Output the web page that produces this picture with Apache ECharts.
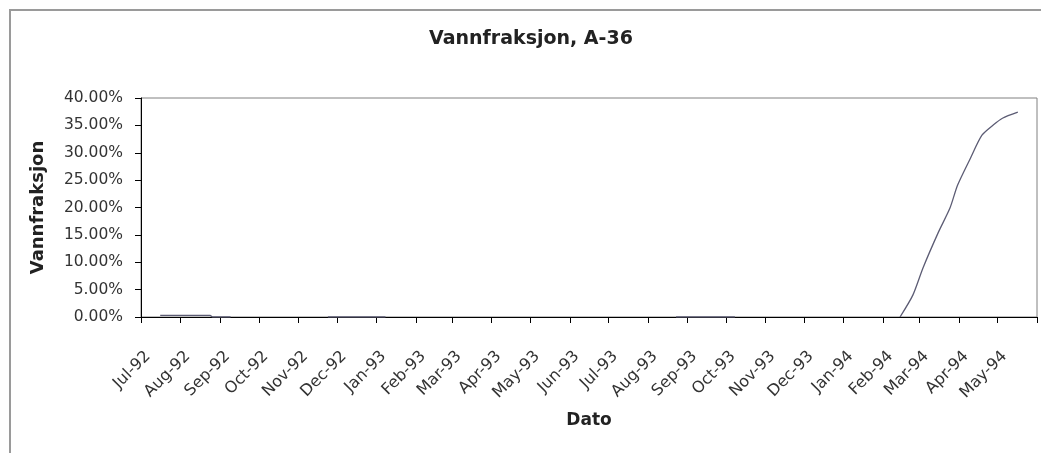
<!DOCTYPE html>
<html>
<head>
<meta charset="utf-8">
<script src="https://cdn.jsdelivr.net/npm/echarts@6/dist/echarts.min.js"></script>
<style>
  html, body { margin: 0; padding: 0; background: #fff; }
  #chart { width: 1041px; height: 453px; }
</style>
</head>
<body>
<div id="chart"></div>
<script>
// ---- data ----
const titleText = 'Vannfraksjon, A-36';
const yName = 'Vannfraksjon';
const xName = 'Dato';
const monthNames = ['Jan','Feb','Mar','Apr','May','Jun','Jul','Aug','Sep','Oct','Nov','Dec'];
const axisStart = '1992-07-01';
const axisEnd = '1994-06-01';
const yTicks = [0, 5, 10, 15, 20, 25, 30, 35, 40]; // percent
// dates and water-cut values (%); null marks a gap in the record
const dates = [
  '1992-07-16', '1992-08-24', '1992-08-26', '1992-09-09', '1992-10-15',
  '1992-11-24', '1993-01-08', '1993-05-01',
  '1993-08-23', '1993-10-08', '1993-12-01',
  '1994-02-14', '1994-02-24', '1994-03-04', '1994-03-16', '1994-03-25',
  '1994-03-31', '1994-04-10', '1994-04-19', '1994-04-28', '1994-05-05', '1994-05-17'
];
const values = [
  0.3, 0.3, 0, 0, null,
  0, 0, null,
  0, 0, null,
  0, 4.0, 9.0, 15.5, 19.9,
  24.1, 29.0, 33.2, 35.1, 36.3, 37.4
];

function toTs(s) {
  const p = s.split('-').map(Number);
  return new Date(p[0], p[1] - 1, p[2]).getTime();
}
const seriesData = dates.map((d, i) => [toTs(d), values[i] === null ? '-' : values[i]]);
const xMax = toTs(axisEnd);

const FONT = 'DejaVu Sans';
const chart = echarts.init(document.getElementById('chart'), null, { renderer: 'canvas' });
chart.setOption({
  backgroundColor: '#ffffff',
  animation: false,
  graphic: [{
    type: 'rect', z: -10, silent: true,
    shape: { x: 10, y: 10, width: 1100, height: 500 },
    style: { fill: 'none', stroke: '#9a9a9a', lineWidth: 2 }
  }],
  title: {
    text: titleText,
    left: 424, top: 25,
    textStyle: { fontFamily: FONT, fontSize: 19, fontWeight: 'bold', color: '#222' }
  },
  grid: {
    left: 141, right: 4, top: 98, bottom: 136,
    show: true, borderColor: '#808080', borderWidth: 1, backgroundColor: '#fff'
  },
  xAxis: {
    type: 'time',
    min: toTs(axisStart), max: xMax,
    splitNumber: 23,
    minInterval: 28 * 86400000,
    maxInterval: 31 * 86400000,
    name: xName, nameLocation: 'middle', nameGap: 95,
    nameTextStyle: { fontFamily: FONT, fontSize: 17, fontWeight: 'bold', color: '#222' },
    axisLine: { lineStyle: { color: '#000', width: 1 } },
    axisTick: { show: true, length: 6, lineStyle: { color: '#000' } },
    splitLine: { show: false },
    axisLabel: {
      rotate: 45, margin: 44, padding: [0, -10, 0, 0],
      fontFamily: FONT, fontSize: 16, color: '#333', interval: 0,
      formatter: function (val) {
        if (val >= xMax) return '';
        const d = new Date(val);
        return monthNames[d.getMonth()] + '-' + String(d.getFullYear()).slice(2);
      }
    }
  },
  yAxis: {
    type: 'value', min: yTicks[0], max: yTicks[yTicks.length - 1], interval: yTicks[1] - yTicks[0],
    name: yName, nameLocation: 'middle', nameGap: 94, nameRotate: 90,
    nameTextStyle: { fontFamily: FONT, fontSize: 18, fontWeight: 'bold', color: '#222' },
    axisLine: { show: true, lineStyle: { color: '#000', width: 1 } },
    axisTick: { show: true, inside: false, length: 6, lineStyle: { color: '#000' } },
    splitLine: { show: false },
    axisLabel: {
      margin: 18, fontFamily: FONT, fontSize: 15.5, color: '#333',
      formatter: v => v.toFixed(2) + '%'
    }
  },
  series: [{
    type: 'line',
    data: seriesData,
    connectNulls: false,
    showSymbol: false,
    smooth: 0.25,
    lineStyle: { color: '#5c5c74', width: 1.3 },
    z: 3
  }]
});
</script>
</body>
</html>
